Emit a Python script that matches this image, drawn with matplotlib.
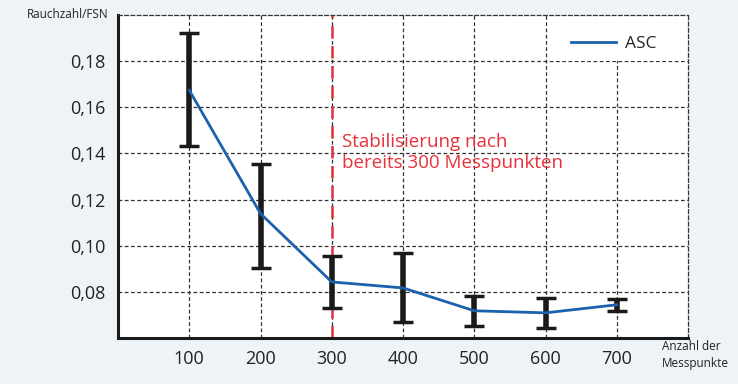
import numpy as np
import matplotlib.pyplot as plt
from matplotlib.patches import Rectangle
from matplotlib.ticker import FuncFormatter

plt.rcParams['font.family'] = ['Open Sans', 'DejaVu Sans']

# data
messpunkte = [100, 200, 300, 400, 500, 600, 700]
fsn_mean = [0.1674, 0.1139, 0.0843, 0.0817, 0.0718, 0.0709, 0.0744]
fsn_upper = [0.1921, 0.1356, 0.0956, 0.0969, 0.0783, 0.0774, 0.0770]
fsn_lower = [0.1432, 0.0905, 0.0731, 0.0671, 0.0652, 0.0643, 0.0718]
y_ticks = [0.08, 0.10, 0.12, 0.14, 0.16, 0.18]
stabil_x = 300

blue = '#1b61ad'
red = '#e8303a'

fig = plt.figure(figsize=(7.38, 3.84), dpi=100, facecolor='#eef3f8')
ax = fig.add_axes([118 / 738, 1 - 338 / 384, 570 / 738, 323 / 384])
ax.set_facecolor('white')

ax.set_xlim(0, 800)
ax.set_ylim(0.06, 0.20)
ax.set_xticks(messpunkte)
ax.set_yticks(y_ticks)
ax.yaxis.set_major_formatter(FuncFormatter(lambda v, p: ('%.2f' % v).replace('.', ',')))
ax.tick_params(length=0, labelsize=13, colors='#222222', pad=9)

ax.set_axisbelow(True)
ax.grid(True, linestyle=(0, (3, 2)), color='#333333', linewidth=0.9)

for s in ['left', 'bottom']:
    ax.spines[s].set_linewidth(2.2)
    ax.spines[s].set_color('#1a1a1a')
for s in ['top', 'right']:
    ax.spines[s].set_linestyle((0, (3, 2)))
    ax.spines[s].set_linewidth(0.9)
    ax.spines[s].set_color('#333333')

# white box behind legend
ax.add_patch(Rectangle((606, 0.18), 194, 0.02, facecolor='white', edgecolor='none', zorder=1))

ax.axvline(stabil_x, color=red, linestyle=(0, (5, 3)), linewidth=1.8, zorder=2)

m = np.array(fsn_mean)
yerr = [m - np.array(fsn_lower), np.array(fsn_upper) - m]
ax.errorbar(messpunkte, fsn_mean, yerr=yerr, fmt='none', ecolor='#1a1a1a',
            elinewidth=4, capsize=7, capthick=2.5, zorder=3)
ax.plot(messpunkte, fsn_mean, color=blue, linewidth=2, label='ASC', zorder=4)

ax.text(314, 0.1489, 'Stabilisierung nach\nbereits 300 Messpunkten', color=red,
        fontsize=13.5, va='top', ha='left', linespacing=1.2)

leg = ax.legend(loc='upper right', bbox_to_anchor=(0.972, 0.985), frameon=False,
                fontsize=12.5, handlelength=2.6, handletextpad=0.5)
for t in leg.get_texts():
    t.set_color('#222222')

fig.text(108 / 738, 1 - 14 / 384, 'Rauchzahl/FSN', fontsize=8.5, ha='right', va='center', color='#222222')
fig.text(662 / 738, 1 - 355 / 384, 'Anzahl der\nMesspunkte', fontsize=8.5, ha='left', va='center',
         color='#222222', linespacing=1.3)

fig.savefig('out.png', dpi=100, facecolor=fig.get_facecolor())
